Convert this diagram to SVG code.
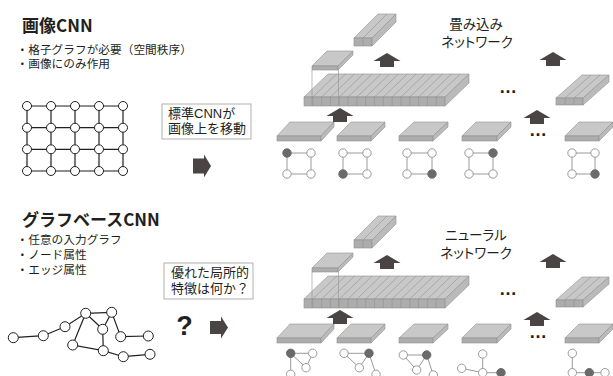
<svg xmlns="http://www.w3.org/2000/svg" width="613" height="376" viewBox="0 0 613 376">
<defs>
<style>
.t{font-family:"Liberation Sans","Noto Sans CJK JP",sans-serif;fill:#231f20}
.h{font-family:"Noto Sans CJK JP","Liberation Sans",sans-serif;font-size:17px;font-weight:bold}
.b{font-size:11.7px}
.bx{font-size:13px}
.nl{font-size:13.5px;text-anchor:middle;font-feature-settings:"palt"}
.box{fill:#fff;stroke:#b0b0b0;stroke-width:1}
.tp{fill:#c8c8c8;stroke:#909090;stroke-width:0.6}
.fr{fill:#adadad;stroke:#909090;stroke-width:0.6}
.sd{fill:#bababa;stroke:#909090;stroke-width:0.6}
.ln{fill:none;stroke:#909090;stroke-width:0.6}
.ar{fill:#4b4444}
.ge{stroke:#231f20;stroke-width:1.2;fill:none}
.gn{fill:#fff;stroke:#231f20;stroke-width:1}
.se{stroke:#9a9a9a;stroke-width:1;fill:none}
.sn{fill:#fff;stroke:#9a9a9a;stroke-width:1}
.sf{fill:#6a6a6a;stroke:#6a6a6a;stroke-width:1}
.dots{font-family:"Liberation Sans",sans-serif;font-size:18px;font-weight:bold;fill:#231f20}
</style>
<path id="aup" d="M0,0 L13.5,8 L7,8 L7,14 L-7,14 L-7,8 L-13.5,8 Z"/>
<g id="net">
  <polygon class="tp" points="304,97 445,97 469,74 328,74"/>
  <rect class="fr" x="304" y="97" width="141" height="9"/>
  <polygon class="sd" points="445,97 469,74 469,83 445,106"/>
  <path class="ln" d="M312.81,97 l24,-23 M321.63,97 l24,-23 M330.44,97 l24,-23 M339.25,97 l24,-23 M348.06,97 l24,-23 M356.88,97 l24,-23 M365.69,97 l24,-23 M374.5,97 l24,-23 M383.31,97 l24,-23 M392.13,97 l24,-23 M400.94,97 l24,-23 M409.75,97 l24,-23 M418.56,97 l24,-23 M427.38,97 l24,-23 M436.19,97 l24,-23"/>
  <path class="ln" d="M312.81,97 v9 M321.63,97 v9 M330.44,97 v9 M339.25,97 v9 M348.06,97 v9 M356.88,97 v9 M365.69,97 v9 M374.5,97 v9 M383.31,97 v9 M392.13,97 v9 M400.94,97 v9 M409.75,97 v9 M418.56,97 v9 M427.38,97 v9 M436.19,97 v9"/>
  <polygon class="tp" points="312,66 338,66 353,51 327,51"/>
  <rect class="fr" x="312" y="66" width="26" height="4"/>
  <polygon class="sd" points="338,66 353,51 353,55 338,70"/>
  <path class="ln" d="M312,70 V105 M338.5,70 V105"/>
  <polygon class="tp" points="354,38 372,38 396,14 378,14"/>
  <rect class="fr" x="354" y="38" width="18" height="8"/>
  <polygon class="sd" points="372,38 396,14 396,22 372,46"/>
  <path class="ln" d="M363,38 l24,-24 M363,38 v8"/>
  <polygon class="tp" points="556,98 583,98 609,75 582,75"/>
  <rect class="fr" x="556" y="98" width="27" height="7"/>
  <polygon class="sd" points="583,98 609,75 609,82 583,105"/>
  <path class="ln" d="M565,98 l26,-23 M574,98 l26,-23 M565,98 v7 M574,98 v7"/>
  <polygon class="tp" points="277,136 321,136 334,122 290,122"/>
  <rect class="fr" x="277" y="136" width="44" height="5"/>
  <polygon class="sd" points="321,136 334,122 334,127 321,141"/>
  <polygon class="tp" points="337,136 371,136 385,122 351,122"/>
  <rect class="fr" x="337" y="136" width="34" height="5"/>
  <polygon class="sd" points="371,136 385,122 385,127 371,141"/>
  <polygon class="tp" points="399,136 433,136 448,122 414,122"/>
  <rect class="fr" x="399" y="136" width="34" height="5"/>
  <polygon class="sd" points="433,136 448,122 448,127 433,141"/>
  <polygon class="tp" points="462,136 497,136 511,122 476,122"/>
  <rect class="fr" x="462" y="136" width="35" height="5"/>
  <polygon class="sd" points="497,136 511,122 511,127 497,141"/>
  <polygon class="tp" points="565,136 599,136 613,122 579,122"/>
  <rect class="fr" x="565" y="136" width="34" height="5"/>
  <polygon class="sd" points="599,136 613,122 613,127 599,141"/>
  <use href="#aup" class="ar" x="340" y="108"/>
  <use href="#aup" class="ar" x="387" y="53"/>
  <use href="#aup" class="ar" x="553" y="52"/>
  <use href="#aup" class="ar" x="537" y="110"/>
  <text class="dots" x="499" y="93">…</text>
  <text class="dots" x="529" y="136">…</text>
</g>
</defs>

<g id="title-cnn">
  <text class="t h" x="22" y="31.5">画像CNN</text>
  <text class="t b"><tspan x="16.5" y="54.2">・格子グラフが必要（空間秩序）</tspan><tspan x="16.5" y="67.5">・画像にのみ作用</tspan></text>
</g>

<g id="grid-graph">
  <path class="ge" d="M27,106 H123 M27,127.7 H123 M27,149.3 H123 M27,171 H123 M27,106 V171 M51,106 V171 M75,106 V171 M99,106 V171 M123,106 V171"/>
  <circle class="gn" cx="27" cy="106" r="4.5"/><circle class="gn" cx="51" cy="106" r="4.5"/><circle class="gn" cx="75" cy="106" r="4.5"/><circle class="gn" cx="99" cy="106" r="4.5"/><circle class="gn" cx="123" cy="106" r="4.5"/>
  <circle class="gn" cx="27" cy="127.7" r="4.5"/><circle class="gn" cx="51" cy="127.7" r="4.5"/><circle class="gn" cx="75" cy="127.7" r="4.5"/><circle class="gn" cx="99" cy="127.7" r="4.5"/><circle class="gn" cx="123" cy="127.7" r="4.5"/>
  <circle class="gn" cx="27" cy="149.3" r="4.5"/><circle class="gn" cx="51" cy="149.3" r="4.5"/><circle class="gn" cx="75" cy="149.3" r="4.5"/><circle class="gn" cx="99" cy="149.3" r="4.5"/><circle class="gn" cx="123" cy="149.3" r="4.5"/>
  <circle class="gn" cx="27" cy="171" r="4.5"/><circle class="gn" cx="51" cy="171" r="4.5"/><circle class="gn" cx="75" cy="171" r="4.5"/><circle class="gn" cx="99" cy="171" r="4.5"/><circle class="gn" cx="123" cy="171" r="4.5"/>
</g>

<g id="box-cnn">
  <rect class="box" x="162" y="104" width="89" height="35"/>
  <text class="t bx"><tspan x="168" y="117.7">標準CNNが</tspan><tspan x="168" y="132.7">画像上を移動</tspan></text>
</g>
<g id="arrow-right-1">
  <path class="ar" d="M193,158.5 H204 V154.5 L211,166 L204,177.5 V173.5 H193 Z"/>
</g>

<g id="conv-network">
  <use href="#net"/>
  <text class="t nl"><tspan x="476" y="28.8">畳み込み</tspan><tspan x="477" y="46.8">ネットワーク</tspan></text>
</g>

<g id="grid-patches">
  <g class="se"><path d="M287,153 H311 V174 H287 Z"/><path d="M343,153 H367 V174 H343 Z"/><path d="M407,153 H432 V174 H407 Z"/><path d="M469,153 H493 V174 H469 Z"/><path d="M572,153 H595 V174 H572 Z"/></g>
  <circle class="sf" cx="287" cy="153" r="4.2"/><circle class="sn" cx="311" cy="153" r="4.2"/><circle class="sn" cx="287" cy="174" r="4.2"/><circle class="sn" cx="311" cy="174" r="4.2"/>
  <circle class="sn" cx="343" cy="153" r="4.2"/><circle class="sn" cx="367" cy="153" r="4.2"/><circle class="sf" cx="343" cy="174" r="4.2"/><circle class="sn" cx="367" cy="174" r="4.2"/>
  <circle class="sn" cx="407" cy="153" r="4.2"/><circle class="sn" cx="432" cy="153" r="4.2"/><circle class="sn" cx="407" cy="174" r="4.2"/><circle class="sf" cx="432" cy="174" r="4.2"/>
  <circle class="sn" cx="469" cy="153" r="4.2"/><circle class="sf" cx="493" cy="153" r="4.2"/><circle class="sn" cx="469" cy="174" r="4.2"/><circle class="sn" cx="493" cy="174" r="4.2"/>
  <circle class="sn" cx="572" cy="153" r="4.2"/><circle class="sn" cx="595" cy="153" r="4.2"/><circle class="sn" cx="572" cy="174" r="4.2"/><circle class="sf" cx="595" cy="174" r="4.2"/>
</g>

<g id="title-gcnn">
  <text class="t h" x="22" y="225.5">グラフベースCNN</text>
  <text class="t b"><tspan x="16.5" y="244.3">・任意の入力グラフ</tspan><tspan x="16.5" y="259">・ノード属性</tspan><tspan x="16.5" y="274">・エッジ属性</tspan></text>
</g>

<g id="free-graph">
  <path class="ge" d="M13.3,337.7 L43.3,335.7 L65,326.7 L85.7,313.3 L111.7,312.3 L120.7,336.7 L148.3,336 M85.7,313.3 L102.7,329.3 L111.7,312.3 M85.7,313.3 L72.7,345 L103.3,350.7 L123.3,356.7 L150,354.3 M102.7,329.3 L103.3,350.7"/>
  <circle class="gn" cx="13.3" cy="337.7" r="5"/><circle class="gn" cx="43.3" cy="335.7" r="5"/><circle class="gn" cx="65" cy="326.7" r="5"/><circle class="gn" cx="85.7" cy="313.3" r="5"/>
  <circle class="gn" cx="111.7" cy="312.3" r="5"/><circle class="gn" cx="102.7" cy="329.3" r="5"/><circle class="gn" cx="120.7" cy="336.7" r="5"/><circle class="gn" cx="148.3" cy="336" r="5"/>
  <circle class="gn" cx="72.7" cy="345" r="5"/><circle class="gn" cx="103.3" cy="350.7" r="5"/><circle class="gn" cx="123.3" cy="356.7" r="5"/><circle class="gn" cx="150" cy="354.3" r="5"/>
</g>

<g id="box-gcnn">
  <rect class="box" x="164" y="263" width="89" height="36"/>
  <text class="t bx"><tspan x="171" y="276.7">優れた局所的</tspan><tspan x="171" y="292.7">特徴は何か？</tspan></text>
</g>
<g id="question">
  <text x="184.5" y="335" text-anchor="middle" font-family="Liberation Sans, sans-serif" font-weight="bold" font-size="27" fill="#231f20">?</text>
</g>
<g id="arrow-right-2">
  <path class="ar" d="M210,321 H221 V316.5 L228,327.5 L221,338.5 V334 H210 Z"/>
</g>

<g id="neural-network">
  <use href="#net" transform="translate(0,202)"/>
  <text class="t nl"><tspan x="476" y="239.8">ニューラル</tspan><tspan x="476" y="257.8">ネットワーク</tspan></text>
</g>

<g id="graph-patches">
  <path class="se" d="M290.7,353.3 H312.7 L306,367.7 Z M290.7,353.3 V374.3"/>
  <circle class="sf" cx="290.7" cy="353.3" r="4.2"/><circle class="sn" cx="312.7" cy="353.3" r="4.2"/><circle class="sn" cx="306" cy="367.7" r="4.2"/><circle class="sn" cx="290.7" cy="374.3" r="4.2"/>
  <path class="se" d="M344,353.3 L369,353.3 L359.3,367.7 Z M369,353.3 L376,374.3"/>
  <circle class="sn" cx="344" cy="353.3" r="4.2"/><circle class="sf" cx="369" cy="353.3" r="4.2"/><circle class="sn" cx="359.3" cy="367.7" r="4.2"/><circle class="sn" cx="376" cy="374.3" r="4.2"/>
  <path class="se" d="M403.3,355 L426.7,355 L416.7,370 Z M426.7,355 L433.3,375"/>
  <circle class="sn" cx="403.3" cy="355" r="4.2"/><circle class="sf" cx="426.7" cy="355" r="4.2"/><circle class="sn" cx="416.7" cy="370" r="4.2"/><circle class="sn" cx="433.3" cy="375" r="4.2"/>
  <path class="se" d="M482.7,354 V372.7 L501,372.7 M461.7,368.3 L482.7,372.7"/>
  <circle class="sn" cx="482.7" cy="354" r="4.2"/><circle class="sn" cx="461.7" cy="368.3" r="4.2"/><circle class="sn" cx="482.7" cy="372.7" r="4.2"/><circle class="sf" cx="501" cy="372.7" r="4.2"/>
  <path class="se" d="M572.3,353.3 V372.7 H605"/>
  <circle class="sn" cx="572.3" cy="353.3" r="4.2"/><circle class="sn" cx="572.3" cy="372.7" r="4.2"/><circle class="sf" cx="589.3" cy="372.7" r="4.2"/><circle class="sn" cx="605" cy="372.7" r="4.2"/>
</g>
</svg>
